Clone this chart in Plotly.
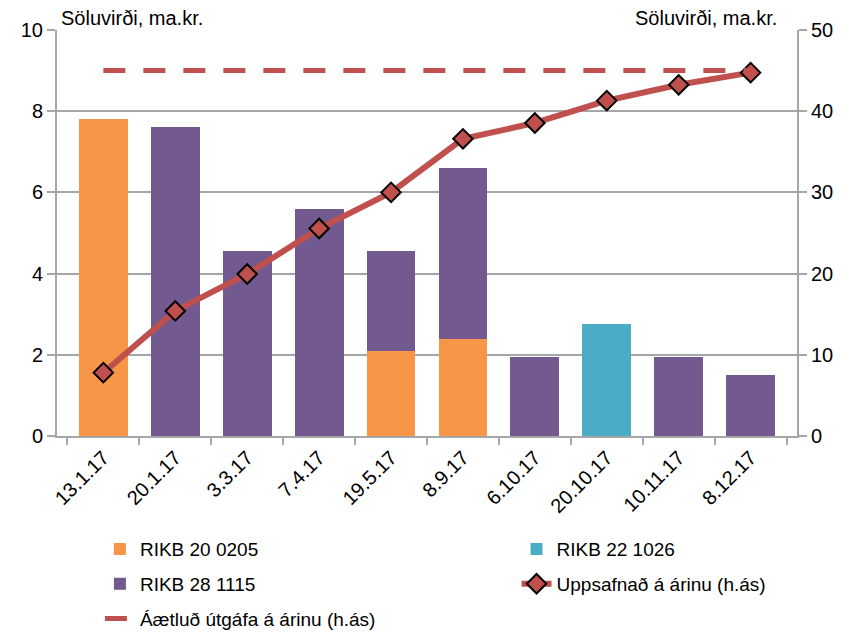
import plotly.graph_objects as go

dates = ["13.1.17", "20.1.17", "3.3.17", "7.4.17", "19.5.17",
         "8.9.17", "6.10.17", "20.10.17", "10.11.17", "8.12.17"]

rikb20 = [7.8, 0, 0, 0, 2.1, 2.4, 0, 0, 0, 0]
rikb22 = [0, 0, 0, 0, 0, 0, 0, 2.75, 0, 0]
rikb28 = [0, 7.6, 4.55, 5.6, 2.45, 4.2, 1.95, 0, 1.95, 1.5]
cumulative = [7.8, 15.4, 19.95, 25.55, 30.0, 36.6, 38.55, 41.3, 43.25, 44.75]
planned = [45] * len(dates)

FONT = "Liberation Sans, Arial, sans-serif"
GRID = "#A6A6A6"

fig = go.Figure()

fig.add_trace(go.Bar(x=dates, y=rikb20, name="RIKB 20 0205",
                     legend="legend", legendgroup="a",
                     marker=dict(color="#F79646", line=dict(width=0))))
fig.add_trace(go.Bar(x=dates, y=rikb22, name="RIKB 22 1026",
                     legend="legend2", legendgroup="b",
                     marker=dict(color="#4BACC6", line=dict(width=0))))
fig.add_trace(go.Bar(x=dates, y=rikb28, name="RIKB 28 1115",
                     legend="legend", legendgroup="c",
                     marker=dict(color="#72598F", line=dict(width=0))))

fig.add_trace(go.Scatter(
    x=dates, y=cumulative, name="Uppsafnað á árinu (h.ás)",
    yaxis="y2", mode="lines+markers", legend="legend2", legendgroup="d",
    line=dict(color="#C0504D", width=6),
    marker=dict(symbol="diamond", size=15, color="#C0504D",
                line=dict(color="black", width=2)),
))
fig.add_trace(go.Scatter(
    x=dates, y=planned, name="Áætluð útgáfa á árinu (h.ás)",
    yaxis="y2", mode="lines", legend="legend", legendgroup="e",
    line=dict(color="#C0504D", width=5, dash="22px,18px"),
))

legend_style = dict(
    orientation="v", yanchor="top", xanchor="left",
    font=dict(size=19), traceorder="grouped", tracegroupgap=7,
    bgcolor="rgba(0,0,0,0)",
)

# the page body has an 8px margin, so the figure is 8px smaller than the window
fig.update_layout(
    barmode="stack",
    bargap=0.32,
    width=840,
    height=624,
    margin=dict(l=49, r=51, t=22, b=196, autoexpand=False),
    paper_bgcolor="white",
    plot_bgcolor="white",
    font=dict(family=FONT, size=20, color="black"),
    xaxis=dict(
        showline=True, linecolor=GRID, linewidth=2,
        ticks="outside", tickson="boundaries", ticklen=7,
        tickcolor=GRID, tickwidth=2, tickangle=-45,
        tickfont=dict(size=20), automargin=False,
    ),
    yaxis=dict(
        range=[0, 10], dtick=2,
        showline=True, linecolor=GRID, linewidth=2,
        showgrid=True, gridcolor=GRID, gridwidth=2,
        ticks="outside", ticklen=8, tickcolor=GRID, tickwidth=2,
        zeroline=False, tickfont=dict(size=20), automargin=False,
    ),
    yaxis2=dict(
        range=[0, 50], dtick=10, overlaying="y", side="right",
        showline=True, linecolor=GRID, linewidth=2, showgrid=False,
        ticks="outside", ticklen=8, tickcolor=GRID, tickwidth=2,
        zeroline=False, tickfont=dict(size=20), automargin=False,
    ),
    legend=dict(x=0.058, y=-0.232, **legend_style),
    legend2=dict(x=0.621, y=-0.232, **legend_style),
    annotations=[
        dict(text="Söluvirði, ma.kr.", xref="paper", yref="paper",
             x=0.003, y=1.0, xanchor="left", yanchor="middle", yshift=12,
             showarrow=False, font=dict(size=20)),
        dict(text="Söluvirði, ma.kr.", xref="paper", yref="paper",
             x=0.975, y=1.0, xanchor="right", yanchor="middle", yshift=12,
             showarrow=False, font=dict(size=20)),
    ],
)

fig.write_html("out.html")
